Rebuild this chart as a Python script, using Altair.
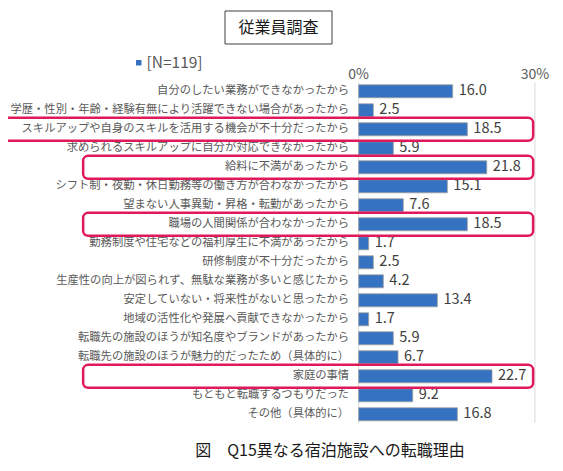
import altair as alt
import pandas as pd

FONT = "Noto Sans CJK JP"

categories = [
    "自分のしたい業務ができなかったから",
    "学歴・性別・年齢・経験有無により活躍できない場合があったから",
    "スキルアップや自身のスキルを活用する機会が不十分だったから",
    "求められるスキルアップに自分が対応できなかったから",
    "給料に不満があったから",
    "シフト制・夜勤・休日勤務等の働き方が合わなかったから",
    "望まない人事異動・昇格・転勤があったから",
    "職場の人間関係が合わなかったから",
    "勤務制度や住宅などの福利厚生に不満があったから",
    "研修制度が不十分だったから",
    "生産性の向上が図られず、無駄な業務が多いと感じたから",
    "安定していない・将来性がないと思ったから",
    "地域の活性化や発展へ貢献できなかったから",
    "転職先の施設のほうが知名度やブランドがあったから",
    "転職先の施設のほうが魅力的だったため（具体的に）",
    "家庭の事情",
    "もともと転職するつもりだった",
    "その他（具体的に）",
]
values = [16.0, 2.5, 18.5, 5.9, 21.8, 15.1, 7.6, 18.5, 1.7, 2.5, 4.2, 13.4,
          1.7, 5.9, 6.7, 22.7, 9.2, 16.8]
series_name = "[N=119]"

highlighted = [
    "スキルアップや自身のスキルを活用する機会が不十分だったから",
    "給料に不満があったから",
    "職場の人間関係が合わなかったから",
    "家庭の事情",
]
box_left = [-60.5, -46.9, -46.9, -46.9]
box_right = [29.7, 29.7, 29.7, 29.7]

tick_values = [0, 30]
tick_labels = ["0%", "30%"]

panel_title = "従業員調査"
caption = "図　Q15異なる宿泊施設への転職理由"

df = pd.DataFrame({
    "cat": categories,
    "val": values,
    "idx": list(range(len(categories))),
    "series": series_name,
    "zero": 0,
})
boxes = pd.DataFrame({
    "cat": highlighted,
    "x1": box_left,
    "x2": box_right,
    "idx": [categories.index(c) for c in highlighted],
})
ticks = pd.DataFrame({"v": tick_values, "lab": tick_labels})

xscale = alt.Scale(domain=[-59.69, 33.42], nice=False, zero=False)
yscale = alt.Scale(domain=[-4.384, 19.563], nice=False, zero=False, reverse=True)

grid = alt.Chart(ticks).mark_rule(color="#d9d9d9", strokeWidth=1).encode(
    x=alt.X("v:Q", scale=xscale, axis=None),
    y=alt.value(74), y2=alt.value(415),
)

bars = alt.Chart(df).transform_calculate(
    y1="datum.idx - 0.342", y2="datum.idx + 0.342"
).mark_rect(stroke="#9e9e9e", strokeWidth=0.8).encode(
    x=alt.X("zero:Q", scale=xscale, axis=None),
    x2="val:Q",
    y=alt.Y("y1:Q", scale=yscale, axis=None),
    y2="y2:Q",
    color=alt.Color(
        "series:N",
        scale=alt.Scale(domain=[series_name], range=["#3572C2"]),
        legend=alt.Legend(
            orient="none", legendX=123, legendY=47, title=None,
            symbolType="square", symbolSize=30, symbolStrokeWidth=0,
            labelFontSize=15.5, labelColor="#595959", labelFont=FONT,
            labelOffset=0, padding=0,
        ),
    ),
)

val_labels = alt.Chart(df).mark_text(
    align="left", baseline="middle", dx=6, fontSize=14.5, color="#404040", font=FONT
).encode(
    x=alt.X("val:Q", scale=xscale, axis=None),
    y=alt.Y("idx:Q", scale=yscale, axis=None),
    text=alt.Text("val:Q", format=".1f"),
)

cat_labels = alt.Chart(df).mark_text(
    align="right", baseline="middle", dx=-9.5, fontSize=11.3, color="#595959", font=FONT
).encode(
    x=alt.X("zero:Q", scale=xscale, axis=None),
    y=alt.Y("idx:Q", scale=yscale, axis=None),
    text="cat:N",
)

tick_text = alt.Chart(ticks).mark_text(
    align="center", baseline="middle", fontSize=14, color="#595959", font=FONT
).encode(
    x=alt.X("v:Q", scale=xscale, axis=None),
    y=alt.value(67),
    text="lab:N",
)

box_marks = alt.Chart(boxes).transform_calculate(
    y1="datum.idx - 0.605", y2="datum.idx + 0.605"
).mark_rect(
    fill="white", fillOpacity=0, stroke="#E0195A", strokeWidth=2.5, cornerRadius=5,
).encode(
    x=alt.X("x1:Q", scale=xscale, axis=None),
    x2="x2:Q",
    y=alt.Y("y1:Q", scale=yscale, axis=None),
    y2="y2:Q",
)

title_box = alt.Chart(pd.DataFrame({"t": [panel_title]})).mark_rect(
    fill="white", stroke="#404040", strokeWidth=1
).encode(
    x=alt.value(217), x2=alt.value(324), y=alt.value(3), y2=alt.value(36),
)
title_text = alt.Chart(pd.DataFrame({"t": [panel_title]})).mark_text(
    align="center", baseline="middle", fontSize=16, color="#1a1a1a", font=FONT
).encode(x=alt.value(270.5), y=alt.value(20), text="t:N")

caption_text = alt.Chart(pd.DataFrame({"t": [caption]})).mark_text(
    align="center", baseline="middle", fontSize=16, color="#1a1a1a", font=FONT
).encode(x=alt.value(322), y=alt.value(443), text="t:N")

chart = alt.layer(
    grid, bars, val_labels, cat_labels, tick_text, box_marks,
    title_box, title_text, caption_text,
).properties(
    width=547, height=455, autosize=alt.AutoSizeParams(type="none"), padding=0,
).configure_view(stroke=None)

chart.save("out.html", embed_options={"renderer": "svg", "actions": False})
